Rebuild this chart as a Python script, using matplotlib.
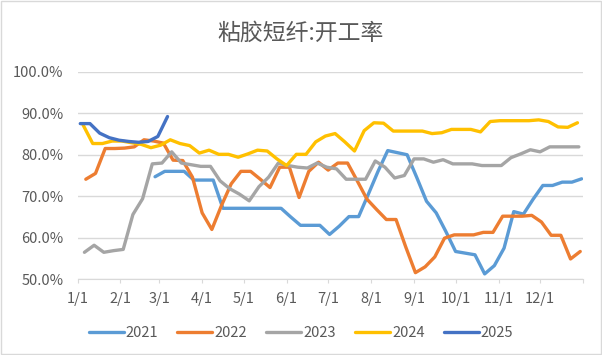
import numpy as np
import pandas as pd
import matplotlib
matplotlib.use('Agg')
import matplotlib.pyplot as plt
from matplotlib.patches import Rectangle

plt.rcParams['font.family'] = ['Noto Sans CJK SC', 'DejaVu Sans']

title = '粘胶短纤:开工率'
years = ['2021', '2022', '2023', '2024', '2025']
# first weekly observation of each year (Fridays)
starts = ['2021-02-26', '2022-01-07', '2023-01-06', '2024-01-05', '2025-01-03']
colors = ['#5B9BD5', '#ED7D31', '#A5A5A5', '#FFC000', '#4472C4']

v2021 = [74.7, 76.0, 76.0, 76.0, 73.9, 73.9, 73.9, 67.1, 67.1, 67.1, 67.1, 67.1, 67.1, 67.1,
         65.0, 63.0, 63.0, 63.0, 60.8, 62.8, 65.1, 65.1, 70.5, 76.0, 81.0, 80.5, 80.0, 74.5,
         68.8, 66.0, 61.5, 56.7, 56.3, 55.9, 51.3, 53.3, 57.5, 66.3, 65.7, 69.3, 72.6, 72.6,
         73.4, 73.4, 74.2]
v2022 = [74.1, 75.5, 81.5, 81.5, 81.6, 81.9, 83.6, 83.3, 82.8, 78.7, 78.6, 74.6, 66.0, 62.0,
         67.8, 73.0, 76.0, 76.0, 74.1, 72.1, 77.0, 77.0, 69.7, 76.0, 78.2, 76.3, 78.0, 78.0,
         73.7, 69.3, 66.8, 64.4, 64.4, 57.8, 51.6, 53.0, 55.4, 59.9, 60.7, 60.7, 60.7, 61.3,
         61.3, 65.2, 65.2, 65.2, 65.4, 63.8, 60.6, 60.6, 54.9, 56.7]
v2023 = [56.5, 58.2, 56.5, 56.9, 57.2, 65.6, 69.4, 77.8, 78.0, 80.7, 78.0, 77.6, 77.2, 77.2,
         73.7, 71.8, 70.5, 68.9, 72.3, 74.6, 78.0, 77.4, 77.0, 76.8, 78.0, 77.0, 76.6, 74.1,
         74.1, 74.1, 78.5, 77.0, 74.4, 75.0, 79.0, 79.0, 78.2, 78.8, 77.8, 77.8, 77.8, 77.4,
         77.4, 77.4, 79.3, 80.2, 81.2, 80.7, 81.9, 81.9, 81.9, 81.9]
v2024 = [87.2, 82.7, 82.7, 83.3, 83.3, 82.9, 82.5, 81.7, 82.3, 83.6, 82.7, 82.2, 80.4, 81.1,
         80.1, 80.1, 79.4, 80.2, 81.1, 80.9, 79.0, 77.4, 80.1, 80.1, 83.1, 84.5, 85.1, 83.1,
         80.9, 85.8, 87.7, 87.6, 85.7, 85.7, 85.7, 85.7, 85.1, 85.3, 86.1, 86.1, 86.1, 85.5,
         88.0, 88.2, 88.2, 88.2, 88.2, 88.4, 88.0, 86.7, 86.6, 87.7]
v2025 = [87.5, 87.5, 85.2, 84.1, 83.5, 83.2, 83.0, 83.2, 84.4, 89.2]
series = [v2021, v2022, v2023, v2024, v2025]

month_days = [0, 31, 59, 90, 120, 151, 181, 212, 243, 273, 304, 334, 365]
month_labels = ['1/1', '2/1', '3/1', '4/1', '5/1', '6/1', '7/1', '8/1', '9/1', '10/1', '11/1', '12/1', '']

fig = plt.figure(figsize=(6.02, 3.55), dpi=100)
ax = fig.add_axes([77.5/602, 1-279.3/355, (583-77.5)/602, (279.3-71.7)/355])

for yr, st, c, vals in zip(years, starts, colors, series):
    d = pd.date_range(st, periods=len(vals), freq='7D')
    x = (d - pd.Timestamp(f'{yr}-01-01')).days
    ax.plot(x, vals, color=c, lw=2.4, label=yr, solid_joinstyle='round', solid_capstyle='round')

ax.set_xlim(0, 365)
ax.set_ylim(50, 100)
ax.set_yticks(np.arange(50, 101, 10))
ax.set_yticklabels([f'{v:.1f}%' for v in np.arange(50, 101, 10)])
ax.set_xticks(month_days)
ax.set_xticklabels(month_labels)
ax.yaxis.grid(True, color='#D9D9D9', lw=1)
ax.set_axisbelow(True)
for s in ['top', 'right', 'left']:
    ax.spines[s].set_visible(False)
ax.spines['bottom'].set_color('#D9D9D9')
ax.tick_params(axis='y', length=0, pad=10, labelsize=10.5, labelcolor='#595959')
ax.tick_params(axis='x', length=3, color='#D9D9D9', pad=6, labelsize=10.5, labelcolor='#595959')

fig.text(0.5, 1-33/355, title, ha='center', va='center', fontsize=16.5, color='#595959')
fig.legend(loc='center', bbox_to_anchor=(0.5, 1-333/355), ncol=5, frameon=False,
           fontsize=10.5, handlelength=2.4, handletextpad=0.15, columnspacing=1.3,
           labelcolor='#595959')
fig.patches.append(Rectangle((0.001, 0.002), 0.997, 0.996, transform=fig.transFigure,
                             fill=False, edgecolor='#D9D9D9', lw=1))
fig.savefig('out.png', dpi=100)
